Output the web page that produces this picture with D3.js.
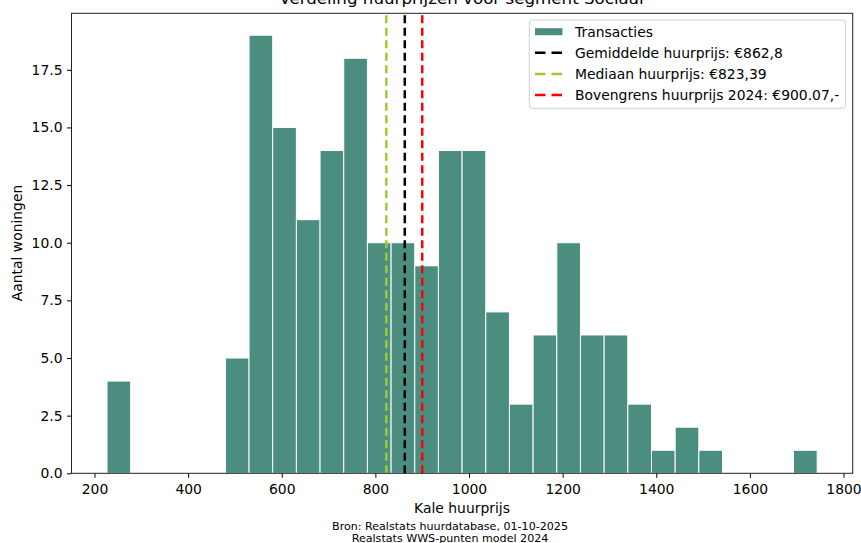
<!DOCTYPE html>
<html>
<head>
<meta charset="utf-8">
<script src="https://cdn.jsdelivr.net/npm/d3@7"></script>
<style>
  html, body { margin: 0; padding: 0; background: #fff; }
  svg { display: block; font-family: "DejaVu Sans", sans-serif; }
</style>
</head>
<body>
<svg id="chart" width="861" height="543"></svg>
<script>
// ---- data ----
const binCounts = [4, 0, 0, 0, 0, 5, 19, 15, 11, 14, 18, 10, 10, 9, 14, 14, 7, 3, 6, 10, 6, 6, 3, 1, 2, 1, 0, 0, 0, 1];
const histRange = [226.7, 1743.8];
const xTicks = [200, 400, 600, 800, 1000, 1200, 1400, 1600, 1800];
const yTicks = [0, 2.5, 5, 7.5, 10, 12.5, 15, 17.5];
const refLines = [
  { label: "Gemiddelde huurprijs: €862,8", value: 862.8, color: "#000000" },
  { label: "Mediaan huurprijs: €823,39", value: 823.39, color: "#9acd32" },
  { label: "Bovengrens huurprijs 2024: €900.07,-", value: 900.07, color: "#ff0000" }
];
const titleText = "Verdeling huurprijzen voor segment Sociaal";
const xLabel = "Kale huurprijs";
const yLabel = "Aantal woningen";
const sourceLines = ["Bron: Realstats huurdatabase, 01-10-2025", "Realstats WWS-punten model 2024"];
const histLabel = "Transacties";

// ---- layout ----
const svg = d3.select("#chart");
const L = 71.5, R = 852.7, T = 13.3, B = 473.3;
const nBins = binCounts.length;
const bw = (histRange[1] - histRange[0]) / nBins;
const bins = binCounts.map((c, i) => ({ x0: histRange[0] + i * bw, x1: histRange[0] + (i + 1) * bw, count: c }));
const span = histRange[1] - histRange[0];
const x = d3.scaleLinear().domain([histRange[0] - 0.05 * span, histRange[1] + 0.05 * span]).range([L, R]);
const y = d3.scaleLinear().domain([0, d3.max(binCounts) * 1.05]).range([B, T]);
const barColor = "#4b8e80";

// bars
svg.append("g").selectAll("rect").data(bins.filter(b => b.count > 0)).join("rect")
  .attr("x", d => x(d.x0)).attr("width", d => x(d.x1) - x(d.x0))
  .attr("y", d => y(d.count)).attr("height", d => y(0) - y(d.count))
  .attr("fill", barColor).attr("stroke", "#ffffff").attr("stroke-width", 1);

// reference lines
svg.append("g").selectAll("line").data(refLines).join("line")
  .attr("x1", d => x(d.value)).attr("x2", d => x(d.value))
  .attr("y1", B).attr("y2", T)
  .attr("stroke", d => d.color).attr("stroke-width", 2.5)
  .attr("stroke-dasharray", "8,4.5");

// axes
const xAxis = d3.axisBottom(x).tickValues(xTicks).tickFormat(d3.format("d")).tickSize(4.5).tickPadding(6);
const yAxis = d3.axisLeft(y).tickValues(yTicks).tickFormat(d3.format(".1f")).tickSize(4.5).tickPadding(4.5);
const gx = svg.append("g").attr("transform", `translate(0,${B})`).call(xAxis);
const gy = svg.append("g").attr("transform", `translate(${L},0)`).call(yAxis);
[gx, gy].forEach(g => {
  g.select(".domain").remove();
  g.selectAll(".tick line").attr("stroke", "#000").attr("stroke-width", 1);
  g.selectAll(".tick text").attr("fill", "#000").style("font-size", "13.9px").style("font-family", "DejaVu Sans");
});

// frame
svg.append("rect").attr("x", L).attr("y", T).attr("width", R - L).attr("height", B - T)
  .attr("fill", "none").attr("stroke", "#222").attr("stroke-width", 1);

// title & labels
svg.append("text").attr("x", 461.5).attr("y", 4).attr("text-anchor", "middle")
  .style("font-size", "16.7px").text(titleText);
svg.append("text").attr("x", 462).attr("y", 513).attr("text-anchor", "middle")
  .style("font-size", "13.9px").text(xLabel);
svg.append("text").attr("transform", `translate(22,243) rotate(-90)`).attr("text-anchor", "middle")
  .style("font-size", "13.9px").text(yLabel);
svg.append("g").selectAll("text").data(sourceLines).join("text")
  .attr("x", 450).attr("y", (d, i) => 530 + i * 12).attr("text-anchor", "middle")
  .style("font-size", "11.1px").text(d => d);

// legend
const lg = svg.append("g");
lg.append("rect").attr("x", 529.3).attr("y", 20).attr("width", 316.4).attr("height", 88.3)
  .attr("rx", 3).attr("fill", "#fff").attr("fill-opacity", 0.8).attr("stroke", "#d0d0d0").attr("stroke-width", 1);
const items = [{ label: histLabel, type: "patch", color: barColor }].concat(refLines.map(d => ({ label: d.label, type: "line", color: d.color })));
items.forEach((it, i) => {
  const cy = 31.7 + i * 21.1;
  if (it.type === "patch") {
    lg.append("rect").attr("x", 535).attr("y", cy - 3.5).attr("width", 27.5).attr("height", 7).attr("fill", it.color);
  } else {
    lg.append("line").attr("x1", 535).attr("x2", 562.5).attr("y1", cy).attr("y2", cy)
      .attr("stroke", it.color).attr("stroke-width", 2.5).attr("stroke-dasharray", "10.5,6");
  }
  lg.append("text").attr("x", 575).attr("y", cy).attr("dy", "0.35em")
    .style("font-size", "13.9px").text(it.label);
});
</script>
</body>
</html>
